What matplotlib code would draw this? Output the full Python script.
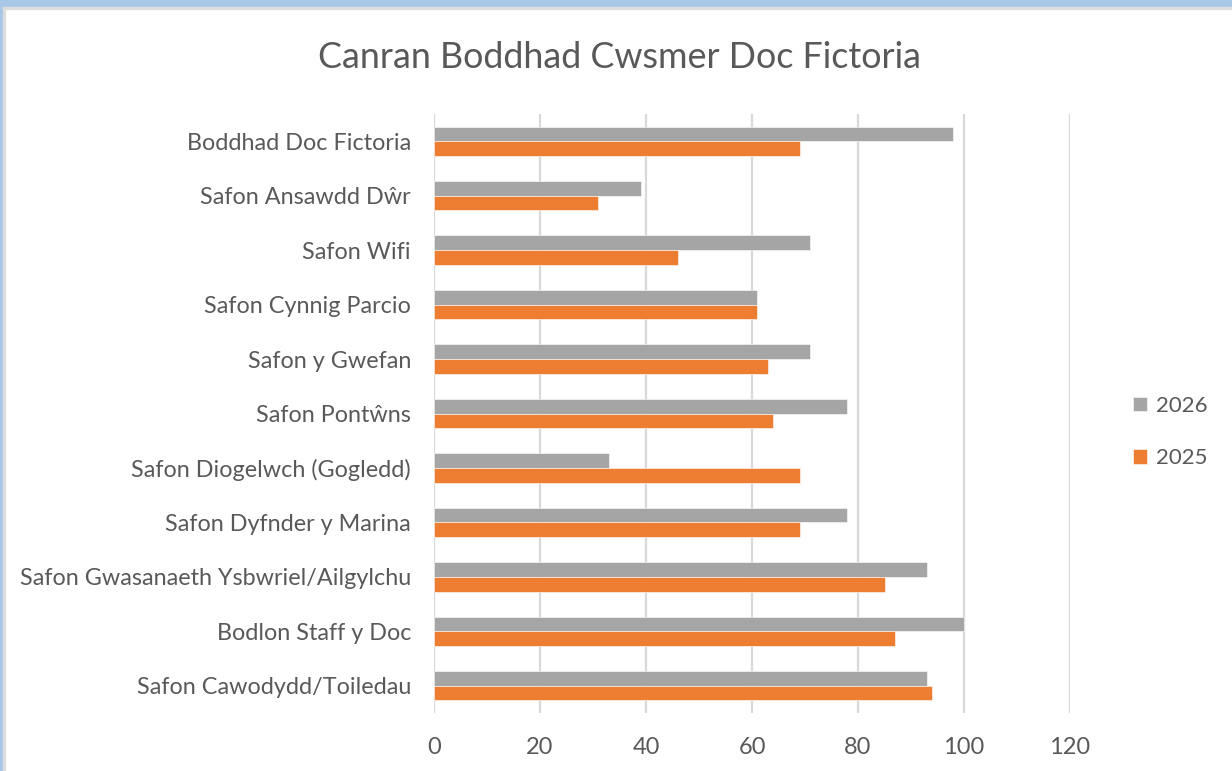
import numpy as np
import matplotlib.pyplot as plt
from matplotlib.patches import Rectangle

categories = ["Boddhad Doc Fictoria", "Safon Ansawdd Dŵr", "Safon Wifi",
              "Safon Cynnig Parcio", "Safon y Gwefan", "Safon Pontŵns",
              "Safon Diogelwch (Gogledd)", "Safon Dyfnder y Marina",
              "Safon Gwasanaeth Ysbwriel/Ailgylchu", "Bodlon Staff y Doc",
              "Safon Cawodydd/Toiledau"]
vals_2026 = [98, 39, 71, 61, 71, 78, 33, 78, 93, 100, 93]
vals_2025 = [69, 31, 46, 61, 63, 64, 69, 69, 85, 87, 94]
xticks = [0, 20, 40, 60, 80, 100, 120]

text_col = "#595959"
grey = "#A5A5A5"
orange = "#ED7D31"
font = "Lato"

fig = plt.figure(figsize=(12.32, 7.71), dpi=100)
fig.patch.set_facecolor("white")
# window frame: blue strip on top and left
fig.patches.append(Rectangle((0, 1 - 7 / 771), 1, 7 / 771, transform=fig.transFigure,
                             color="#A9C8E8", zorder=0))
fig.patches.append(Rectangle((0, 0), 3 / 1232, 1, transform=fig.transFigure,
                             color="#A9C8E8", zorder=0))
fig.patches.append(Rectangle((3 / 1232, 1 - 9 / 771), 1, 2 / 771, transform=fig.transFigure,
                             color="#DDDDDD", zorder=0))
fig.patches.append(Rectangle((3 / 1232, 0), 2 / 1232, 1 - 7 / 771, transform=fig.transFigure,
                             color="#DDDDDD", zorder=0))

ax = fig.add_axes([434 / 1232, 1 - 713 / 771, 636 / 1232, 599 / 771])

y = np.arange(len(categories))
h = 0.27
ax.barh(y - h / 2, vals_2026, height=h, color=grey, edgecolor="white", linewidth=0.4,
        label="2026", zorder=3)
ax.barh(y + h / 2, vals_2025, height=h, color=orange, edgecolor="white", linewidth=0.4,
        label="2025", zorder=3)

ax.set_xlim(0, 120)
ax.set_ylim(len(categories) - 0.5, -0.5)
ax.set_xticks(xticks)
ax.set_yticks(y)
ax.set_yticklabels(categories, fontsize=16.8, color=text_col, family=font)
ax.set_xticklabels([str(t) for t in xticks], fontsize=17, color=text_col, family=font)
ax.tick_params(axis="y", length=0, pad=16.5)
ax.tick_params(axis="x", length=0, pad=17)
ax.grid(axis="x", color="#D9D9D9", linewidth=1.6, zorder=0)
for s in ax.spines.values():
    s.set_visible(False)

fig.text(619 / 1232, 1 - 57 / 771, "Canran Boddhad Cwsmer Doc Fictoria",
         ha="center", va="center", fontsize=25.8, color=text_col, family=font)

leg = fig.legend(loc="center left", bbox_to_anchor=(1133 / 1232, 1 - 432 / 771),
                 frameon=False, prop={"family": font, "size": 16}, borderpad=0,
                 borderaxespad=0, handlelength=0.65, handleheight=0.65, handletextpad=0.4,
                 labelspacing=1.45, labelcolor=text_col)

fig.savefig("out.png", dpi=100)
